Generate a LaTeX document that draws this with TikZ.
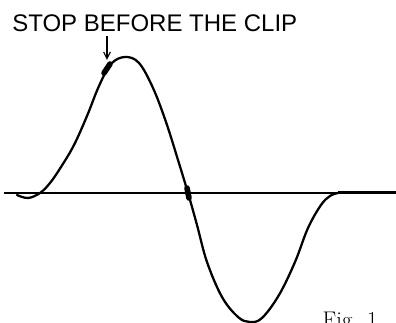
\documentclass[tikz,border=0pt]{standalone}
\usepackage{fontspec}
\newfontfamily\letterfont{Liberation Sans}
\usetikzlibrary{positioning,arrows.meta}

\begin{document}
\begin{tikzpicture}[x=0.75pt,y=-0.75pt,
    wave/.style={line width=1.7pt,line join=round,line cap=round},
    axisline/.style={line width=0.9pt},
    blob/.style={line width=4.2pt,line cap=round}]
  \useasboundingbox (0,0) rectangle (396,323);
  \clip (0,0) rectangle (396,323);
  \def\ax{193}
  % axis
  \draw[axisline] (4,\ax) -- (340,\ax);
  \draw[line width=2.4pt] (338,\ax-0.5) -- (396,\ax-0.5);
  % the signal
  \draw[wave] plot[smooth,tension=0.6] coordinates {
    (17,195) (28,198) (40,193) (50,183) (61,167) (74,145) (87,116) (99,86)
    (111,64) (125,57) (139,63) (153,88) (166,122) (178,160) (188,193)
    (197,225) (207,262) (222,297) (238,317) (250,322) (262,318)
    (279,295) (295,262) (308,228) (321,205) (330,196) (338,193)};
  % marks on the curve
  \coordinate (stop) at (107,68);
  \coordinate (zero) at (188,193);
  \draw[blob] (104,73) -- (110,64);
  \draw[blob] (187,188) -- (189,198);
  % label
  \node[font=\letterfont\fontsize{18}{21}\selectfont,inner sep=0pt,anchor=west]
    (lbl) at (12,23) {STOP BEFORE THE CLIP};
  \coordinate (tip) at (107,60);
  \draw[line width=0.9pt,-{Straight Barb[length=5pt,width=5pt]}] (107,36) -- (tip);
  \node[font=\fontsize{17}{20}\selectfont,anchor=base west] (fig) at (318,327.5) {Fig. 1};
\end{tikzpicture}
\end{document}
